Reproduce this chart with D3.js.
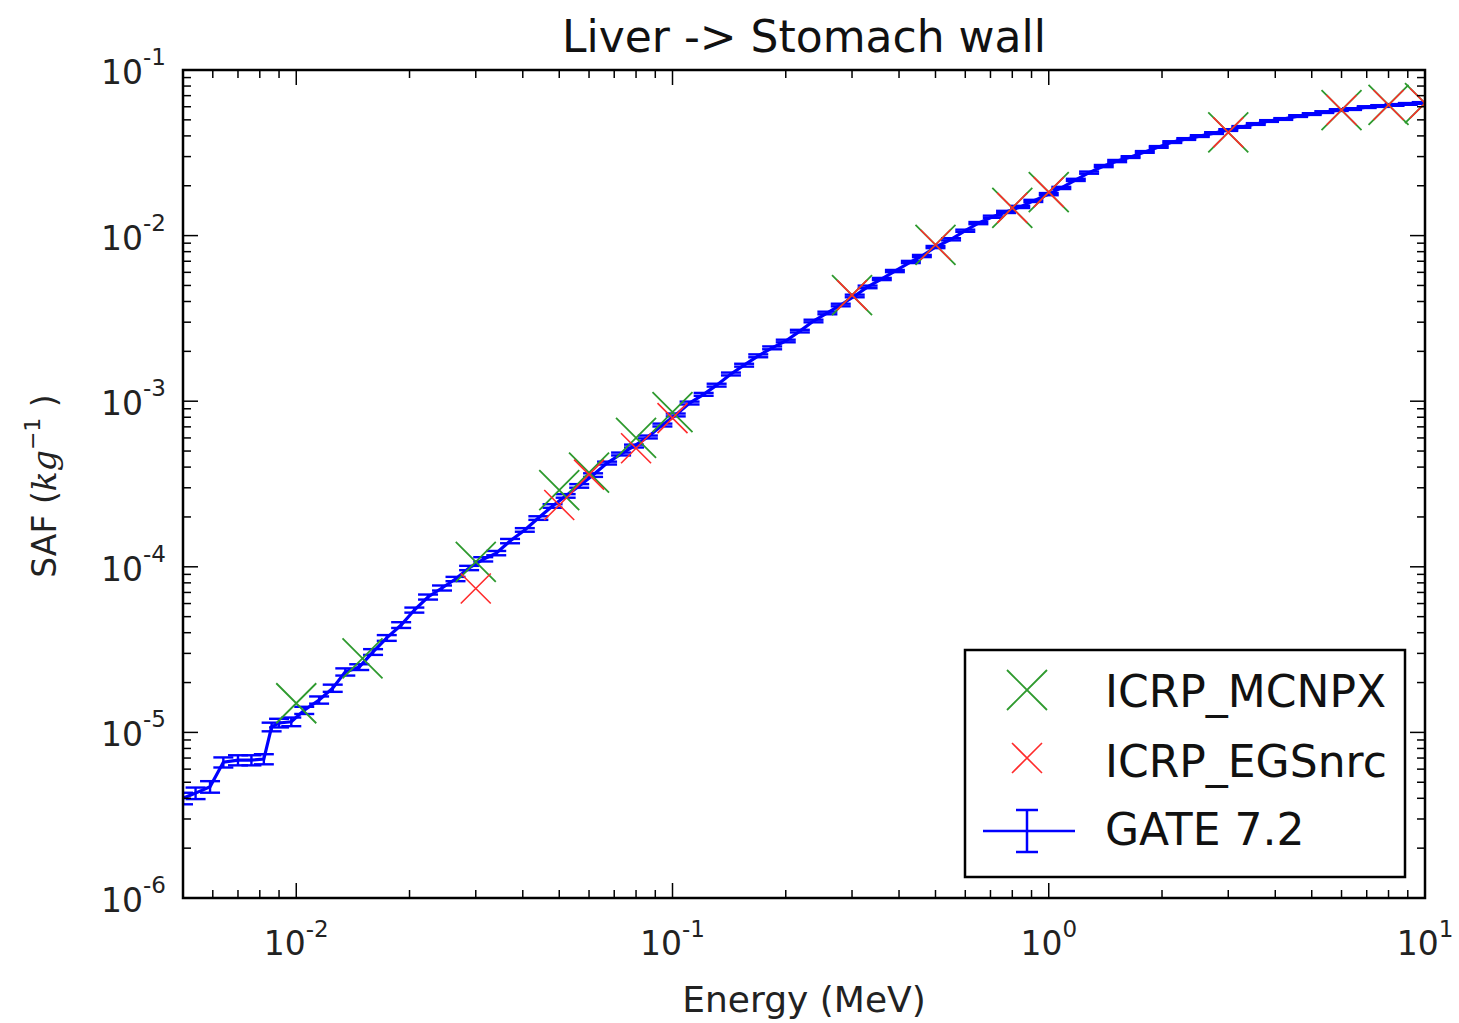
<!DOCTYPE html>
<html>
<head>
<meta charset="utf-8">
<script src="https://cdn.jsdelivr.net/npm/d3@7"></script>
<style>
  body { margin: 0; background: #fff; }
  svg { font-family: "DejaVu Sans", sans-serif; }
</style>
</head>
<body>
<svg></svg>
<script>
const size = {w: 1459, h: 1023};
const plot = {l: 183, r: 1425, t: 70, b: 898};

// GATE 7.2 energies (MeV), SAF values (kg^-1) and relative errors (%)
const gateEnergy = [0.005, 0.0054, 0.0059, 0.0064, 0.007, 0.0076, 0.0082, 0.0086, 0.009, 0.0097,
  0.0105, 0.0115, 0.0125, 0.0135, 0.0147, 0.016, 0.0174, 0.019, 0.0206, 0.0224,
  0.0244, 0.0265, 0.0288, 0.0314, 0.034, 0.037, 0.0405, 0.044, 0.048, 0.052,
  0.0565, 0.0615, 0.067, 0.073, 0.079, 0.086, 0.094, 0.102, 0.111, 0.121,
  0.131, 0.143, 0.155, 0.169, 0.184, 0.2, 0.218, 0.237, 0.258, 0.28,
  0.305, 0.33, 0.36, 0.39, 0.43, 0.46, 0.5, 0.55, 0.6, 0.65,
  0.71, 0.77, 0.84, 0.91, 1.0, 1.08, 1.18, 1.28, 1.4, 1.52,
  1.65, 1.8, 1.96, 2.13, 2.32, 2.52, 2.75, 3.0, 3.25, 3.55,
  3.85, 4.2, 4.6, 5.0, 5.4, 5.9, 6.4, 7.0, 7.6, 8.3, 9.0, 9.8];
const gateSAF = [4.0e-6, 4.3e-6, 4.7e-6, 6.6e-6, 6.8e-6, 6.8e-6, 6.9e-6, 1.08e-5, 1.14e-5, 1.16e-5,
  1.36e-5, 1.57e-5, 1.85e-5, 2.32e-5, 2.48e-5, 3.06e-5, 3.72e-5, 4.45e-5, 5.48e-5, 6.57e-5,
  7.45e-5, 8.44e-5, 9.84e-5, 1.11e-4, 1.21e-4, 1.43e-4, 1.67e-4, 1.97e-4, 2.33e-4, 2.68e-4,
  3.08e-4, 3.58e-4, 4.23e-4, 4.8e-4, 5.36e-4, 6.08e-4, 7.18e-4, 8.26e-4, 9.75e-4, 1.10e-3,
  1.25e-3, 1.46e-3, 1.65e-3, 1.88e-3, 2.10e-3, 2.31e-3, 2.65e-3, 3.05e-3, 3.41e-3, 3.81e-3,
  4.32e-3, 4.9e-3, 5.47e-3, 6.11e-3, 6.93e-3, 7.53e-3, 8.53e-3, 9.5e-3, 1.07e-2, 1.19e-2,
  1.30e-2, 1.39e-2, 1.49e-2, 1.62e-2, 1.78e-2, 1.94e-2, 2.17e-2, 2.40e-2, 2.63e-2, 2.82e-2,
  2.98e-2, 3.2e-2, 3.43e-2, 3.67e-2, 3.83e-2, 3.99e-2, 4.16e-2, 4.34e-2, 4.53e-2, 4.72e-2,
  4.92e-2, 5.06e-2, 5.27e-2, 5.42e-2, 5.57e-2, 5.73e-2, 5.81e-2, 5.97e-2, 6.06e-2, 6.15e-2, 6.24e-2, 6.32e-2];
const gateErr = [8, 8, 8, 7, 7, 7, 7, 6, 6, 6,
  5, 5, 5, 5, 4, 4, 4, 4, 3.5, 3.5,
  3.5, 3, 3, 3, 3, 3, 2.5, 2.5, 2.5, 2.5,
  2.5, 2.5, 2, 2, 2, 2, 2, 2, 2, 2,
  2, 2, 2, 2, 2, 1.8, 1.8, 1.8, 1.8, 1.8,
  1.8, 1.8, 1.5, 1.5, 1.5, 1.5, 1.5, 1.5, 1.5, 1.5,
  1.5, 1.5, 1.5, 1.5, 1.5, 1.5, 1.5, 1.5, 1.5, 1.5,
  1.2, 1.2, 1.2, 1.2, 1.2, 1.2, 1.2, 1.2, 1.2, 1.2,
  1.2, 1.2, 1.2, 1.2, 1.2, 1.2, 1.2, 1.2, 1.2, 1.2, 1.2, 1.2];

// ICRP reference values
const mcnpxEnergy = [0.01, 0.015, 0.03, 0.05, 0.06, 0.08, 0.1, 0.3, 0.5, 0.8, 1.0, 3.0, 6.0, 8.0, 10.0];
const mcnpxSAF = [1.5e-5, 2.8e-5, 1.07e-4, 2.9e-4, 3.7e-4, 6.0e-4, 8.6e-4, 4.37e-3, 8.8e-3, 1.47e-2, 1.83e-2, 4.2e-2, 5.73e-2, 6.15e-2, 6.3e-2];
const egsEnergy = [0.03, 0.05, 0.06, 0.08, 0.1, 0.3, 0.5, 0.8, 1.0, 3.0, 6.0, 8.0, 10.0];
const egsSAF = [7.4e-5, 2.36e-4, 3.6e-4, 5.2e-4, 7.9e-4, 4.37e-3, 8.8e-3, 1.47e-2, 1.83e-2, 4.2e-2, 5.73e-2, 6.15e-2, 6.3e-2];

const xTickLabels = ['-2', '-1', '0', '1'];
const yTickLabels = ['-6', '-5', '-4', '-3', '-2', '-1'];

const svg = d3.select('svg').attr('width', size.w).attr('height', size.h);

const x = d3.scaleLog().domain([0.005, 10]).range([plot.l, plot.r]);
const y = d3.scaleLog().domain([1e-6, 1e-1]).range([plot.b, plot.t]);

svg.append('defs').append('clipPath').attr('id', 'clip')
  .append('rect')
  .attr('x', plot.l).attr('y', plot.t)
  .attr('width', plot.r - plot.l).attr('height', plot.b - plot.t);

const dataG = svg.append('g').attr('clip-path', 'url(#clip)');

// ---- GATE line with error bars ----
const gate = gateEnergy.map((e, i) => ({e: e, v: gateSAF[i], err: gateErr[i] / 100}));
const line = d3.line().x(d => x(d.e)).y(d => y(d.v));
const blue = '#0000ff';
const cap = 10;

const errG = dataG.append('g').attr('stroke', blue).attr('stroke-width', 2.4);
gate.forEach(d => {
  const cx = x(d.e), lo = y(d.v * (1 - d.err)), hi = y(d.v * (1 + d.err));
  errG.append('line').attr('x1', cx).attr('x2', cx).attr('y1', lo).attr('y2', hi);
  errG.append('line').attr('x1', cx - cap).attr('x2', cx + cap).attr('y1', lo).attr('y2', lo);
  errG.append('line').attr('x1', cx - cap).attr('x2', cx + cap).attr('y1', hi).attr('y2', hi);
});
dataG.append('path').datum(gate)
  .attr('d', line)
  .attr('fill', 'none')
  .attr('stroke', blue)
  .attr('stroke-width', 3.2);

// ---- X markers ----
function crossPath(s) {
  return `M${-s},${-s}L${s},${s}M${-s},${s}L${s},${-s}`;
}
const green = '#2e9a2e', red = '#ff2b2b';

dataG.append('g').selectAll('path')
  .data(mcnpxEnergy.map((e, i) => [e, mcnpxSAF[i]]))
  .join('path')
  .attr('transform', d => `translate(${x(d[0])},${y(d[1])})`)
  .attr('d', crossPath(20))
  .attr('fill', 'none').attr('stroke', green).attr('stroke-width', 1.8);

dataG.append('g').selectAll('path')
  .data(egsEnergy.map((e, i) => [e, egsSAF[i]]))
  .join('path')
  .attr('transform', d => `translate(${x(d[0])},${y(d[1])})`)
  .attr('d', crossPath(15))
  .attr('fill', 'none').attr('stroke', red).attr('stroke-width', 1.6);

// ---- frame and ticks ----
const isMajor = t => Math.abs(Math.log10(t) - Math.round(Math.log10(t))) < 1e-9;
const tickG = svg.append('g').attr('stroke', '#000').attr('stroke-width', 1.5);

x.ticks().forEach(t => {
  const len = isMajor(t) ? 15 : 8;
  const px = x(t);
  if (px < plot.l + 0.5 || px > plot.r - 0.5) return;
  tickG.append('line').attr('x1', px).attr('x2', px).attr('y1', plot.b).attr('y2', plot.b - len);
  tickG.append('line').attr('x1', px).attr('x2', px).attr('y1', plot.t).attr('y2', plot.t + len);
});
y.ticks().forEach(t => {
  const len = isMajor(t) ? 15 : 8;
  const py = y(t);
  if (py < plot.t + 0.5 || py > plot.b - 0.5) return;
  tickG.append('line').attr('x1', plot.l).attr('x2', plot.l + len).attr('y1', py).attr('y2', py);
  tickG.append('line').attr('x1', plot.r).attr('x2', plot.r - len).attr('y1', py).attr('y2', py);
});

svg.append('rect')
  .attr('x', plot.l).attr('y', plot.t)
  .attr('width', plot.r - plot.l).attr('height', plot.b - plot.t)
  .attr('fill', 'none').attr('stroke', '#000').attr('stroke-width', 2.5);

// ---- tick labels ----
const xMajors = x.ticks().filter(isMajor);
xMajors.forEach((t, i) => {
  const txt = svg.append('text')
    .attr('x', x(t)).attr('y', 955)
    .attr('text-anchor', 'middle')
    .attr('font-size', 33).attr('fill', '#222');
  txt.append('tspan').text('10');
  txt.append('tspan').attr('dy', -18).attr('font-size', 23).text(xTickLabels[i]);
});
const yMajors = y.ticks().filter(isMajor);
yMajors.forEach((t, i) => {
  const txt = svg.append('text')
    .attr('x', 166).attr('y', y(t) + 14)
    .attr('text-anchor', 'end')
    .attr('font-size', 33).attr('fill', '#222');
  txt.append('tspan').text('10');
  txt.append('tspan').attr('dy', -19).attr('font-size', 23).text(yTickLabels[i]);
});

// ---- title and axis labels ----
svg.append('text')
  .attr('x', (plot.l + plot.r) / 2).attr('y', 52)
  .attr('text-anchor', 'middle').attr('font-size', 44).attr('fill', '#111')
  .text('Liver -> Stomach wall');

svg.append('text')
  .attr('x', (plot.l + plot.r) / 2).attr('y', 1012)
  .attr('text-anchor', 'middle').attr('font-size', 36).attr('fill', '#222')
  .text('Energy (MeV)');

const yl = svg.append('text')
  .attr('transform', 'translate(56,486) rotate(-90)')
  .attr('text-anchor', 'middle').attr('font-size', 33).attr('fill', '#222');
yl.append('tspan').text('SAF (');
yl.append('tspan').attr('font-family', '"DejaVu Serif", serif').attr('font-style', 'italic').text('kg');
yl.append('tspan').attr('dy', -16).attr('font-size', 22).text('\u22121');
yl.append('tspan').attr('dy', 16).text(' )');

// ---- legend ----
const lg = svg.append('g').attr('transform', 'translate(965,650)');
lg.append('rect').attr('width', 440).attr('height', 227)
  .attr('fill', '#fff').attr('stroke', '#000').attr('stroke-width', 2.5);

lg.append('path').attr('transform', 'translate(62,40)').attr('d', crossPath(20))
  .attr('fill', 'none').attr('stroke', green).attr('stroke-width', 1.8);
lg.append('path').attr('transform', 'translate(62,108)').attr('d', crossPath(15))
  .attr('fill', 'none').attr('stroke', red).attr('stroke-width', 1.6);

const lgGate = lg.append('g').attr('stroke', blue).attr('stroke-width', 2.5);
lgGate.append('line').attr('x1', 18).attr('x2', 110).attr('y1', 181).attr('y2', 181);
lgGate.append('line').attr('x1', 62).attr('x2', 62).attr('y1', 160).attr('y2', 202);
lgGate.append('line').attr('x1', 51).attr('x2', 73).attr('y1', 160).attr('y2', 160);
lgGate.append('line').attr('x1', 51).attr('x2', 73).attr('y1', 202).attr('y2', 202);

const legendNames = ['ICRP_MCNPX', 'ICRP_EGSnrc', 'GATE 7.2'];
const legendBase = [57, 127, 195];
legendNames.forEach((n, i) => {
  lg.append('text').attr('x', 140).attr('y', legendBase[i])
    .attr('font-size', 44).attr('fill', '#111').text(n);
});
</script>
</body>
</html>
